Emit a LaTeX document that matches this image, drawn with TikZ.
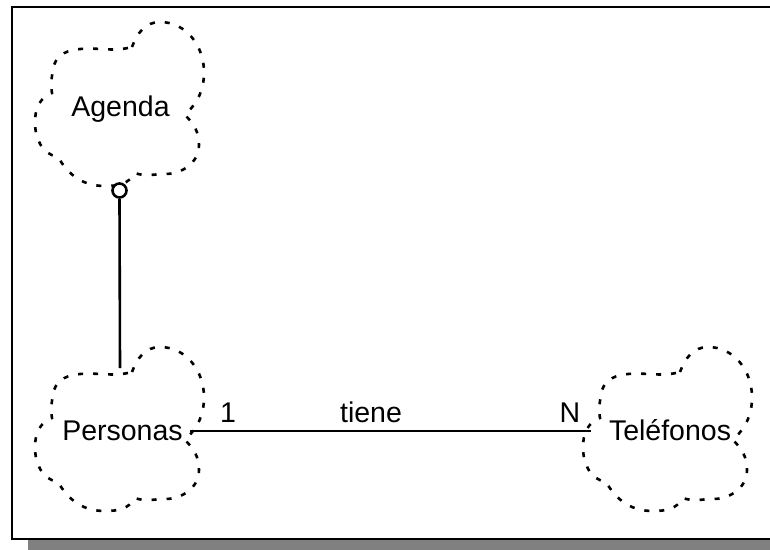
\documentclass[tikz,border=0pt]{standalone}
\usepackage{fontspec}
\setmainfont{Liberation Sans}
\definecolor{shadowgray}{RGB}{128,128,128}
\tikzset{
  cloudline/.style={line width=2.6pt, dash pattern=on 5pt off 10pt, line cap=butt},
  cloudshape/.pic={
    \draw[cloudline]
      (12,-60) to[out=70,in=180] (40,-85) to[out=0,in=90] (84,-35)
      to[out=-90,in=45] (65,8)
      to[out=-45,in=90] (79,38) to[out=-90,in=0] (45,67) to[out=180,in=-20] (15,66)
      to[out=-120,in=0] (-15,79) to[out=180,in=-60] (-62,50)
      to[out=170,in=-90] (-85,15) to[out=90,in=200] (-68,-14)
      to[out=100,in=-100] (-66,-42) to[out=70,in=185] (-40,-58) to[out=5,in=195] (12,-60);
  },
  lbl/.style={anchor=base, inner sep=0pt, font=\fontsize{28.5}{34}\selectfont},
  link/.style={line width=2.6pt},
}
\begin{document}
\begin{tikzpicture}[x=1pt,y=-1pt]
\useasboundingbox (0,0) rectangle (770,549);
% frame with drop shadow
\fill[shadowgray] (28,540) rectangle (790,560);
\draw[line width=2.6pt] (12,7) rectangle (790,539);

% class clouds
\pic at (120,107) {cloudshape};
\pic at (120,432) {cloudshape};
\pic at (668,432) {cloudshape};

\node[lbl] (agenda) at (120.5,116) {Agenda};
\node[lbl] (personas) at (122.5,440) {Personas};
\node[lbl] (telefonos) at (670,440) {Teléfonos};

% aggregation from Agenda to Personas
\node[circle, draw, line width=2.6pt, fill=white, minimum size=14pt, inner sep=0pt] (agg) at (119.5,190.5) {};
\coordinate (personasTop) at (120,368);
\draw[link] (agg.south) -- (personasTop);

% association "tiene"
\coordinate (personasEnd) at (190,431);
\coordinate (telefonosEnd) at (591,431);
\draw[link] (personasEnd) -- (telefonosEnd);
\node[lbl] (multOne) at (228,422) {1};
\node[lbl] (assocName) at (371,422) {tiene};
\node[lbl] (multN) at (570,422) {N};
\end{tikzpicture}
\end{document}
